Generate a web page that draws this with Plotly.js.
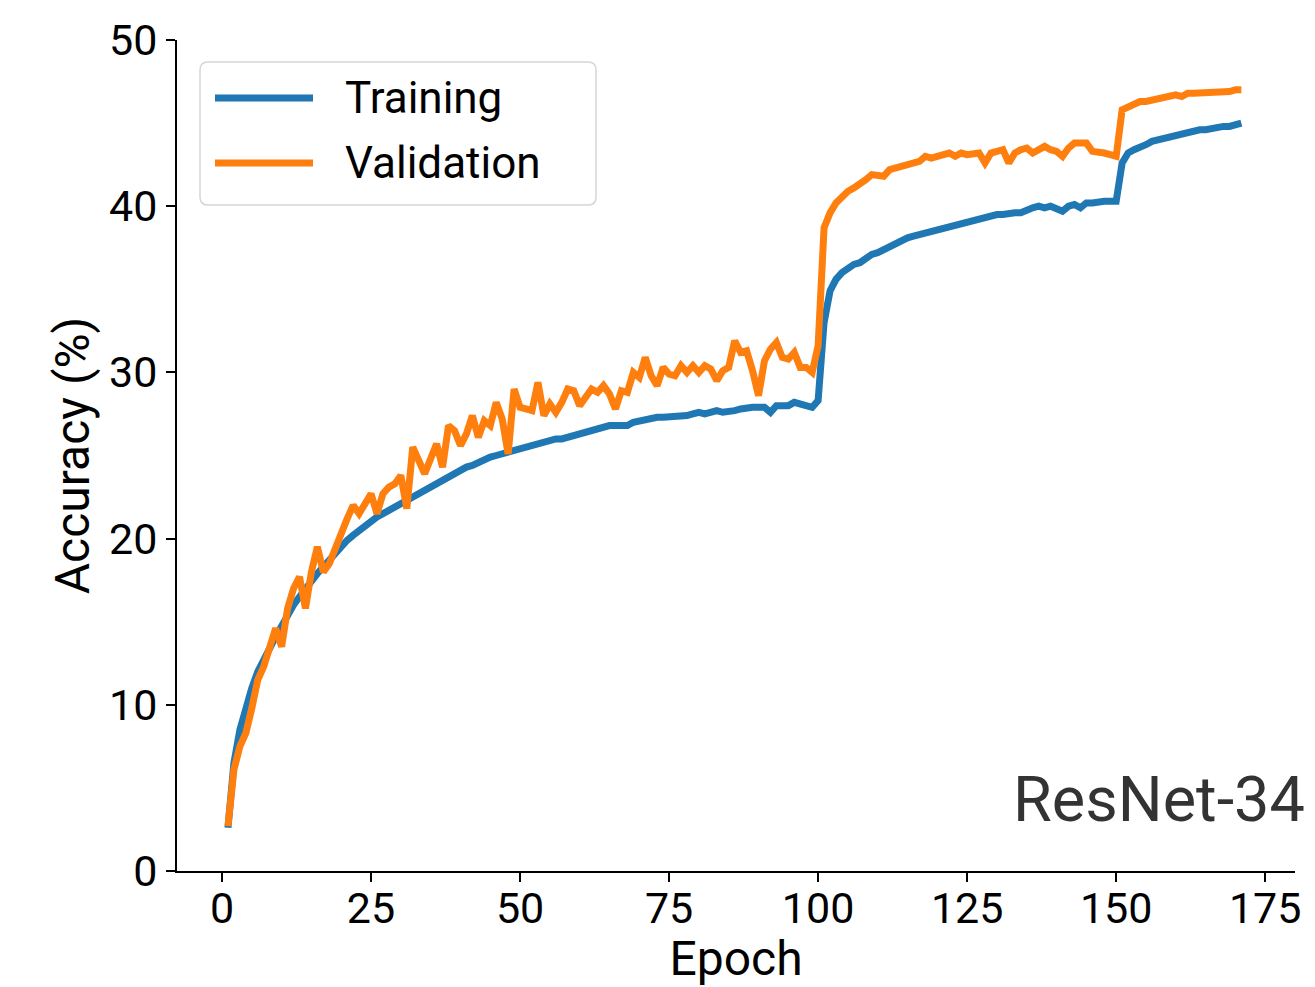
<!DOCTYPE html>
<html>
<head>
<meta charset="utf-8">
<script src="https://cdn.plot.ly/plotly-3.0.1.min.js"></script>
<style>
html,body{margin:0;padding:0;background:#fff;}
#chart{width:1315px;height:987px;}
</style>
</head>
<body>
<div id="chart"></div>
<script>
const epochs = [];
for (let i = 1; i <= 171; i++) epochs.push(i);

const training = [
2.6,6.5,8.5,9.8,11.0,12.0,12.8,13.4,14.1,14.8,
15.4,16.0,16.5,17.0,17.4,17.9,18.3,18.7,19.1,19.6,
19.9,20.2,20.5,20.8,21.0,21.3,21.5,21.7,22.0,22.2,
22.4,22.6,22.8,23.0,23.2,23.4,23.6,23.8,24.0,24.1,
24.3,24.4,24.6,24.8,24.9,25.0,25.1,25.2,25.3,25.4,
25.5,25.7,25.7,25.9,26.0,26.0,26.0,26.1,26.3,26.4,
26.4,26.6,26.7,26.7,26.8,26.8,26.8,26.8,27.0,27.1,
27.2,27.2,27.3,27.3,27.3,27.3,27.4,27.4,27.5,27.6,
27.5,27.6,27.7,27.6,27.6,27.7,27.8,27.9,27.9,27.9,
27.9,27.6,28.0,28.0,28.0,28.2,28.1,28.1,27.9,28.3,
33.0,34.9,35.6,36.0,36.3,36.5,36.6,36.9,37.1,37.2,
37.4,37.6,37.8,37.9,38.1,38.2,38.3,38.4,38.5,38.5,
38.7,38.8,38.9,38.9,39.1,39.2,39.3,39.4,39.4,39.5,
39.5,39.6,39.6,39.6,39.8,39.9,40.0,39.9,40.0,39.9,
39.7,40.0,40.1,39.9,40.2,40.2,40.3,40.3,40.3,40.3,
42.6,43.2,43.4,43.5,43.7,43.9,44.0,44.1,44.2,44.3,
44.4,44.5,44.5,44.6,44.6,44.7,44.8,44.8,44.8,44.9,
45.0
];

const validation = [
2.7,6.1,7.5,8.3,9.8,11.5,12.3,13.5,14.6,13.5,
15.8,17.0,17.7,15.8,18.0,19.5,18.0,18.5,19.5,20.5,
21.2,22.0,21.5,22.1,22.7,21.5,22.7,23.1,23.3,23.8,
21.8,25.5,24.6,23.9,24.8,25.7,24.3,26.8,26.5,25.6,
26.3,27.4,26.1,27.1,26.8,28.2,27.2,25.1,29.0,27.9,
27.8,27.7,29.4,27.4,28.1,27.6,28.2,29.0,28.9,28.0,
28.5,29.0,28.8,29.2,28.7,27.8,28.9,28.8,30.0,29.7,
30.9,29.8,29.2,30.3,29.9,29.8,30.4,30.0,30.4,30.0,
30.4,30.2,29.5,30.1,30.3,31.9,31.2,31.3,30.1,28.6,
30.7,31.4,31.8,30.9,30.8,31.2,30.3,30.3,30.0,31.6,
38.7,39.6,40.2,40.6,40.9,41.1,41.3,41.6,41.9,41.9,
41.8,42.2,42.3,42.4,42.5,42.5,42.7,43.0,42.9,43.0,
43.1,43.2,43.0,43.2,43.1,43.2,43.2,42.6,43.2,43.3,
43.4,42.6,43.2,43.4,43.5,43.2,43.4,43.6,43.4,43.3,
43.0,43.5,43.8,43.8,43.8,43.3,43.3,43.2,43.1,43.0,
45.8,46.0,46.1,46.3,46.3,46.4,46.5,46.5,46.6,46.7,
46.6,46.8,46.8,46.8,46.9,46.8,46.9,46.9,46.9,47.0,
47.0
];

const seriesNames = ["Training", "Validation"];
const seriesColors = ["#1f77b4", "#ff7f0e"];
const xTicks = [0, 25, 50, 75, 100, 125, 150, 175];
const yTicks = [0, 10, 20, 30, 40, 50];
const modelLabel = "ResNet-34";

const FONT = "Roboto, 'Noto Sans', sans-serif";

const traces = [
  {x: epochs, y: training, name: seriesNames[0], type: "scatter", mode: "lines",
   line: {color: seriesColors[0], width: 7}, showlegend: false},
  {x: epochs, y: validation, name: seriesNames[1], type: "scatter", mode: "lines",
   line: {color: seriesColors[1], width: 7}, showlegend: false}
];

// Plot area in pixels: left 177, right 1295, top 40, bottom 871
const L = 177, R = 1295, T = 40, B = 871;
const W = R - L, H = B - T;
const px = v => (v - L) / W;          // pixel x -> paper
const py = v => (B - v) / H;          // pixel y -> paper
function pt(x, y) { return `${px(x).toFixed(5)},${py(y).toFixed(5)}`; }

// Custom legend (rounded box, long line samples)
const bx0 = 200, bx1 = 596, by0 = 62, by1 = 205, rr = 8;
const boxPaper = `M ${pt(bx0+rr,by0)} L ${pt(bx1-rr,by0)} Q ${pt(bx1,by0)} ${pt(bx1,by0+rr)} ` +
  `L ${pt(bx1,by1-rr)} Q ${pt(bx1,by1)} ${pt(bx1-rr,by1)} L ${pt(bx0+rr,by1)} Q ${pt(bx0,by1)} ${pt(bx0,by1-rr)} ` +
  `L ${pt(bx0,by0+rr)} Q ${pt(bx0,by0)} ${pt(bx0+rr,by0)} Z`;

const legendShapes = [
  {type: "path", xref: "paper", yref: "paper", path: boxPaper,
   line: {color: "#d6d6d6", width: 1.5}, fillcolor: "rgba(255,255,255,0.8)", layer: "above"},
  {type: "line", xref: "paper", yref: "paper", x0: px(215), x1: px(313), y0: py(98), y1: py(98),
   line: {color: seriesColors[0], width: 7}, layer: "above"},
  {type: "line", xref: "paper", yref: "paper", x0: px(215), x1: px(313), y0: py(163), y1: py(163),
   line: {color: seriesColors[1], width: 7}, layer: "above"}
];

const annotations = [
  {xref: "paper", yref: "paper", x: px(343), y: py(98), xanchor: "left", yanchor: "middle",
   text: seriesNames[0], showarrow: false, font: {family: FONT, size: 44, color: "#000"}},
  {xref: "paper", yref: "paper", x: px(343), y: py(163), xanchor: "left", yanchor: "middle",
   text: seriesNames[1], showarrow: false, font: {family: FONT, size: 44, color: "#000"}},
  {xref: "paper", yref: "paper", x: px(1307), y: py(799), xanchor: "right", yanchor: "middle",
   text: modelLabel, showarrow: false, font: {family: FONT, size: 63, color: "#333333"}}
];

const layout = {
  width: 1315, height: 987,
  margin: {l: L, r: 1315 - R, t: T, b: 987 - B, pad: 0},
  paper_bgcolor: "#fff", plot_bgcolor: "#fff",
  showlegend: false,
  font: {family: FONT, color: "#000"},
  xaxis: {
    range: [-7.55, 180.0], tickvals: xTicks, ticktext: xTicks.map(String),
    ticks: "outside", ticklen: 9, tickwidth: 2, tickcolor: "#000",
    ticklabelstandoff: -11,
    showline: true, linecolor: "#000", linewidth: 2, mirror: false,
    showgrid: false, zeroline: false,
    tickfont: {family: FONT, size: 43, color: "#000"},
    title: {text: "Epoch", font: {family: FONT, size: 48, color: "#000"}, standoff: 6}
  },
  yaxis: {
    range: [0, 50], tickvals: yTicks, ticktext: yTicks.map(String),
    ticks: "outside", ticklen: 9, tickwidth: 2, tickcolor: "#000",
    showline: true, linecolor: "#000", linewidth: 2, mirror: false,
    showgrid: false, zeroline: false,
    tickfont: {family: FONT, size: 43, color: "#000"},
    title: {text: "Accuracy (%)", font: {family: FONT, size: 48, color: "#000"}, standoff: 4}
  },
  shapes: legendShapes,
  annotations: annotations
};

Plotly.newPlot("chart", traces, layout, {displayModeBar: false, staticPlot: true});
</script>
</body>
</html>
